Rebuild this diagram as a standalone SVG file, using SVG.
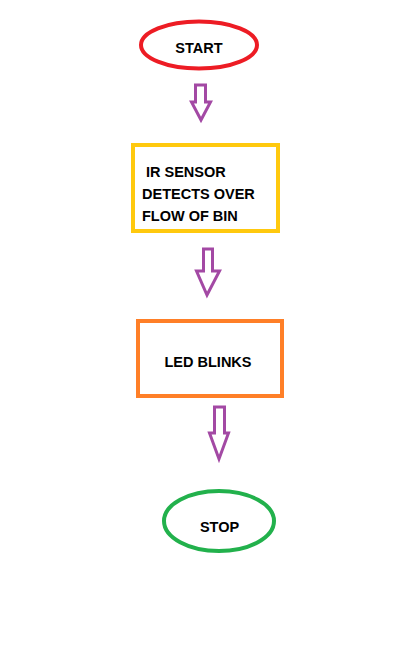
<svg xmlns="http://www.w3.org/2000/svg" width="413" height="669" viewBox="0 0 413 669">
<style>
.lbl{font-family:"Liberation Sans",Arial,sans-serif;font-weight:bold;font-size:14.5px;fill:#000}
.arr{fill:none;stroke:#A349A4;stroke-width:3;stroke-linejoin:miter}
.shape{fill:#fff;stroke-width:4}
</style>
<rect width="413" height="669" fill="#fff"/>
<g id="connectors">
<polygon class="arr" points="195.5,85 205.5,85 205.5,102 210.5,102 201,120 191.5,102 195.5,102"/>
<polygon class="arr" points="203.5,249 212.5,249 212.5,271 219.5,271 207,295 196.5,271 203.5,271"/>
<polygon class="arr" points="214.5,407 224.5,407 224.5,433 228.5,433 219,459 209.5,433 214.5,433"/>
</g>
<g id="start">
<ellipse class="shape" cx="199" cy="45" rx="58" ry="23.5" stroke="#ED1C24"/>
<text class="lbl" x="199" y="52.5" text-anchor="middle">START</text>
</g>
<g id="ir-sensor">
<rect class="shape" x="133" y="145" width="145" height="86" stroke="#FFC90E"/>
<text class="lbl" x="146" y="177">IR SENSOR</text>
<text class="lbl" x="142" y="198.5">DETECTS OVER</text>
<text class="lbl" x="142" y="220.5">FLOW OF BIN</text>
</g>
<g id="led-blinks">
<rect class="shape" x="138" y="321" width="144" height="75" stroke="#FF7F27"/>
<text class="lbl" x="208" y="366.5" text-anchor="middle">LED BLINKS</text>
</g>
<g id="stop">
<ellipse class="shape" cx="219" cy="521" rx="55" ry="30" stroke="#22B14C"/>
<text class="lbl" x="219.5" y="532" text-anchor="middle">STOP</text>
</g>
</svg>
